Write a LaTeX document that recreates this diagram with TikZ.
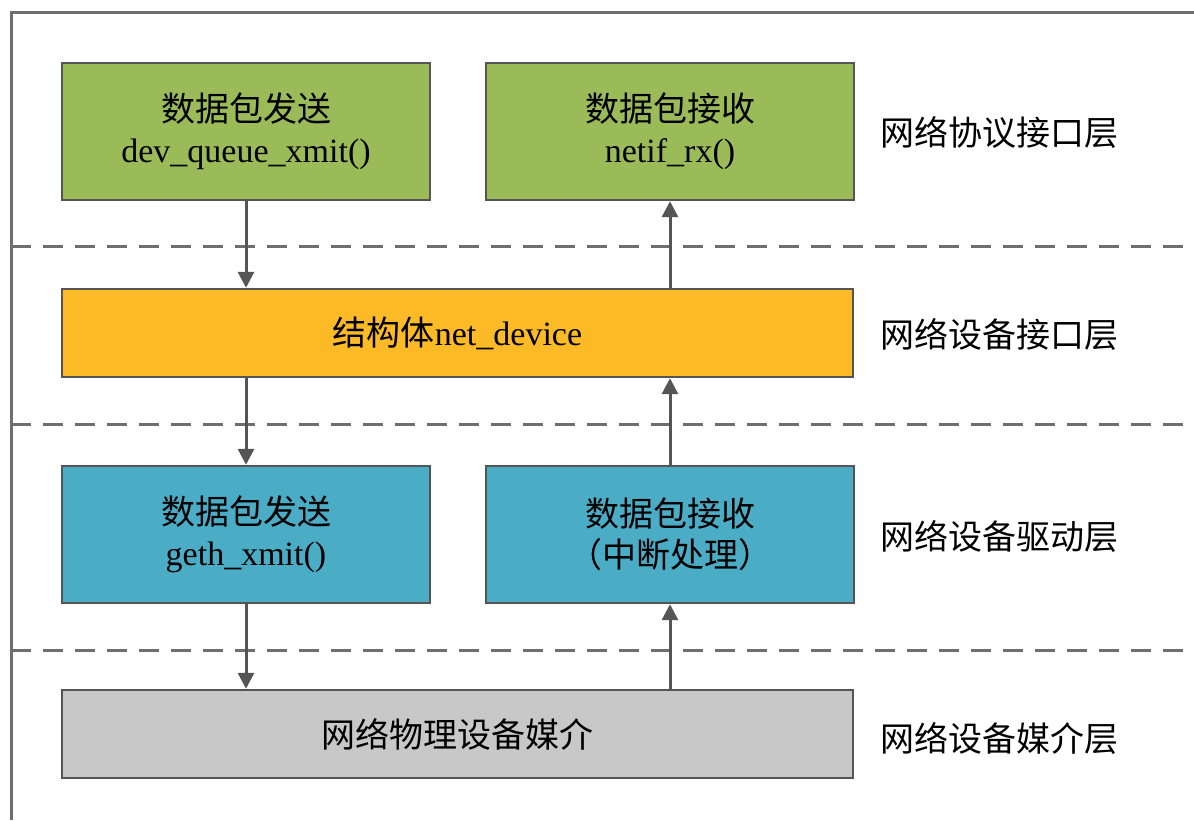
\documentclass[tikz,border=0pt]{standalone}
\usepackage{fontspec}
\setmainfont{Liberation Serif}
\newfontfamily\cjk{Noto Sans CJK SC}
\usepackage{tikz}
\usetikzlibrary{positioning}
\usetikzlibrary{arrows.meta}

\definecolor{sendgreen}{HTML}{9BBB59}
\definecolor{devorange}{HTML}{FDBA27}
\definecolor{drvblue}{HTML}{4BACC6}
\definecolor{phygray}{HTML}{C8C8C8}
\definecolor{edgegray}{HTML}{555555}
\definecolor{framegray}{HTML}{6E6E6E}

\tikzset{
	box/.style={rectangle,draw=edgegray,line width=1.2pt,inner sep=0pt,align=center,
		font=\fontsize{17}{20.5}\selectfont},
	halfbox/.style={box,minimum width=184pt,minimum height=68.5pt},
	widebox/.style={box,minimum width=395.5pt,minimum height=44pt},
	flow/.style={draw=edgegray,line width=1.5pt,-{Triangle[length=8pt,width=8pt]}},
	layerline/.style={draw=framegray,line width=1.5pt,dash pattern=on 10pt off 6pt},
	layername/.style={anchor=west,inner sep=0pt,font=\fontsize{17}{20.5}\selectfont\cjk}
}

\begin{document}
\begin{tikzpicture}[x=0.5pt,y=-0.5pt]
	\useasboundingbox (0,0) rectangle (1194,820);
	% frame and layer borders
	\draw[framegray,line width=1.5pt] (1194,12) -- (11,12) -- (11,820);
	\draw[layerline] (11,246) -- (1194,246);
	\draw[layerline] (11,424) -- (1194,424);
	\draw[layerline] (11,650) -- (1194,650);

	% boxes
	\node[halfbox,fill=sendgreen] (qsend) at (246,131.5) {{\cjk 数据包发送}\\dev\_queue\_xmit()};
	\node[halfbox,fill=sendgreen] (qrecv) at (670,131.5) {{\cjk 数据包接收}\\netif\_rx()};
	\node[widebox,fill=devorange] (netdev) at (457.5,333) {{\cjk 结构体}net\_device};
	\node[halfbox,fill=drvblue] (dsend) at (246,534.5) {{\cjk 数据包发送}\\geth\_xmit()};
	\node[halfbox,fill=drvblue] (drecv) at (670,534.5) {{\cjk 数据包接收}\\{\cjk （中断处理）}};
	\node[widebox,fill=phygray] (media) at (457.5,734) {\cjk 网络物理设备媒介};

	% layer names
	\node[layername] (l1) at (880,133) {网络协议接口层};
	\node[layername] (l2) at (880,335) {网络设备接口层};
	\node[layername] (l3) at (880,537) {网络设备驱动层};
	\node[layername] (l4) at (880,738) {网络设备媒介层};

	% transmit path
	\draw[flow] (qsend.south) -- (qsend.south |- netdev.north);
	\draw[flow] (qsend.south |- netdev.south) -- (dsend.north);
	\draw[flow] (dsend.south) -- (dsend.south |- media.north);
	% receive path
	\draw[flow] (drecv.south |- media.north) -- (drecv.south);
	\draw[flow] (drecv.north) -- (drecv.north |- netdev.south);
	\draw[flow] (qrecv.south |- netdev.north) -- (qrecv.south);
\end{tikzpicture}
\end{document}
